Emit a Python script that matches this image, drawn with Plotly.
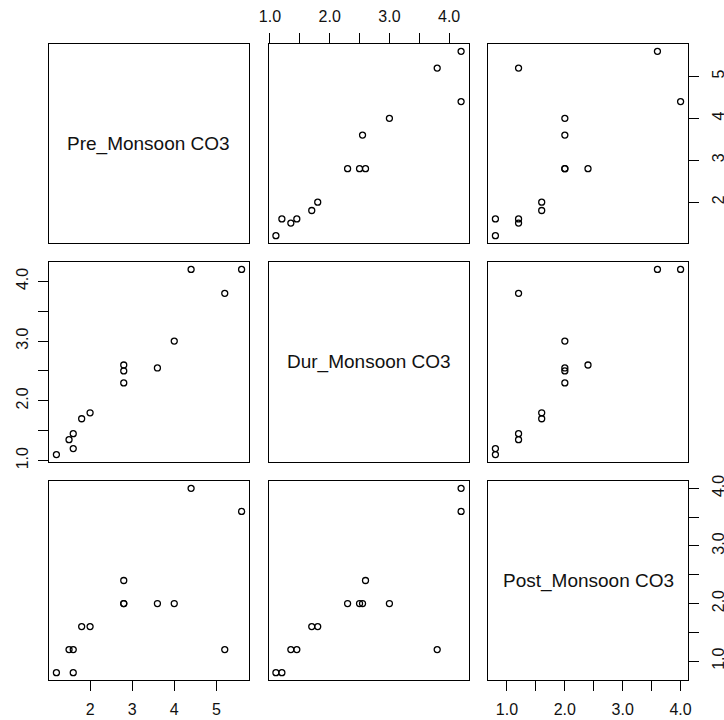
import plotly.graph_objects as go

# Data
pre_monsoon = [1.2, 1.5, 1.6, 1.6, 1.8, 2.0, 2.8, 2.8, 2.8, 3.6, 4.0, 4.4, 5.2, 5.6]
dur_monsoon = [1.1, 1.35, 1.45, 1.2, 1.7, 1.8, 2.3, 2.5, 2.6, 2.55, 3.0, 4.2, 3.8, 4.2]
post_monsoon = [0.8, 1.2, 1.2, 0.8, 1.6, 1.6, 2.0, 2.0, 2.4, 2.0, 2.0, 4.0, 1.2, 3.6]
var_names = ["Pre_Monsoon CO3", "Dur_Monsoon CO3", "Post_Monsoon CO3"]

pre_tickvals = [2, 3, 4, 5]
pre_ticktext = ["2", "3", "4", "5"]
dur_tickvals = [1.0, 1.5, 2.0, 2.5, 3.0, 3.5, 4.0]
dur_ticktext = ["1.0", "", "2.0", "", "3.0", "", "4.0"]
post_tickvals = [1.0, 1.5, 2.0, 2.5, 3.0, 3.5, 4.0]
post_ticktext = ["1.0", "", "2.0", "", "3.0", "", "4.0"]

data = [pre_monsoon, dur_monsoon, post_monsoon]
ticks = [(pre_tickvals, pre_ticktext), (dur_tickvals, dur_ticktext), (post_tickvals, post_ticktext)]

def rng(v):
    lo, hi = min(v), max(v)
    s = hi - lo
    return [lo - 0.04 * s, hi + 0.04 * s]

def pad(labels):
    # non-breaking spaces on both sides keep the label centred but wider
    return [f"\u00a0\u00a0{t}\u00a0\u00a0" if len(t) == 1 else t for t in labels]

ranges = [rng(v) for v in data]

W, H = 724, 720
col_px = [(49, 249), (268.5, 468.5), (488, 688)]
row_px = [(44, 243), (262, 462), (481, 680)]

FONT = "Arial, Liberation Sans, sans-serif"
TICKFONT = dict(family=FONT, size=16, color="#111")
fig = go.Figure()
layout = dict(
    width=W, height=H, margin=dict(l=0, r=0, t=0, b=0),
    paper_bgcolor="white", plot_bgcolor="white", showlegend=False,
    template="none", font=dict(family=FONT, size=16, color="#111"),
)
annotations = []

for i in range(3):
    for j in range(3):
        k = i * 3 + j + 1
        xname = "xaxis" if k == 1 else f"xaxis{k}"
        yname = "yaxis" if k == 1 else f"yaxis{k}"
        xref = "x" if k == 1 else f"x{k}"
        yref = "y" if k == 1 else f"y{k}"
        base = dict(showline=True, mirror=True, linecolor="black", linewidth=1,
                    showgrid=False, zeroline=False, automargin=False,
                    fixedrange=True)
        xa = dict(base, domain=[col_px[j][0] / W, col_px[j][1] / W],
                  range=ranges[j], anchor=yref)
        ya = dict(base, domain=[1 - row_px[i][1] / H, 1 - row_px[i][0] / H],
                  range=ranges[i], anchor=xref)
        show_x = (i == 0 and j == 1) or (i == 2 and j in (0, 2))
        show_y = (j == 0 and i == 1) or (j == 2 and i in (0, 2))
        if show_x:
            xa.update(ticks="outside", ticklen=10, tickwidth=1, tickcolor="black",
                      tickmode="array", tickvals=ticks[j][0], ticktext=ticks[j][1],
                      showticklabels=True, side="top" if i == 0 else "bottom",
                      ticklabelstandoff=5, tickfont=TICKFONT)
        else:
            xa.update(ticks="", showticklabels=False)
        if show_y:
            right = j == 2
            ya.update(ticks="outside", ticklen=10, tickwidth=1, tickcolor="black",
                      tickmode="array", tickvals=ticks[i][0], ticktext=pad(ticks[i][1]),
                      showticklabels=True, side="right" if right else "left",
                      tickangle=-90,
                      ticklabelstandoff=(6 if right else 4),
                      tickfont=TICKFONT)
        else:
            ya.update(ticks="", showticklabels=False)
        layout[xname] = xa
        layout[yname] = ya
        if i == j:
            # empty trace so the diagonal panel's frame and axes are drawn
            fig.add_trace(go.Scatter(x=[None], y=[None], xaxis=xref, yaxis=yref,
                                     mode="markers", hoverinfo="skip"))
            annotations.append(dict(text=var_names[i], xref=f"{xref} domain",
                                    yref=f"{yref} domain", x=0.5, y=0.5,
                                    showarrow=False,
                                    font=dict(family=FONT, size=19, color="#111")))
        else:
            fig.add_trace(go.Scatter(
                x=data[j], y=data[i], xaxis=xref, yaxis=yref, mode="markers",
                marker=dict(symbol="circle-open", size=6, color="black",
                            line=dict(width=1.3)),
                hoverinfo="skip"))

layout["annotations"] = annotations
fig.update_layout(**layout)
fig.write_html("out.html")
